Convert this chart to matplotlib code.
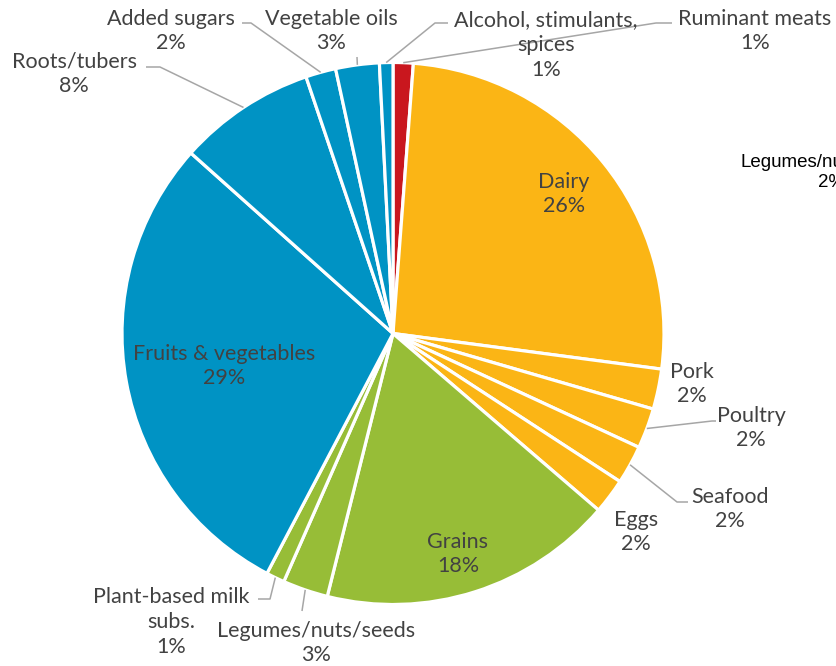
import numpy as np
import matplotlib.pyplot as plt

# food group shares (% of total), clockwise from 12 o'clock
groups = ["Ruminant meats", "Dairy", "Pork", "Poultry", "Seafood", "Eggs",
          "Grains", "Legumes/nuts/seeds", "Plant-based milk\nsubs.",
          "Fruits & vegetables", "Roots/tubers", "Added sugars",
          "Vegetable oils", "Alcohol, stimulants,\nspices"]
shares = [1.2, 25.9, 2.4, 2.4, 2.3, 2.1,
          17.6, 2.7, 1.1,
          28.9, 8.2, 1.8, 2.6, 0.8]
kind = ["red", "animal", "animal", "animal", "animal", "animal",
        "grain", "grain", "grain",
        "plant", "plant", "plant", "plant", "plant"]

palette = {"red": "#C9171E", "animal": "#FBB515", "grain": "#97BD37", "plant": "#0093C4"}
txt_color = "#424242"
line_color = "#A6A6A6"

W, H = 836, 666
CX, CY, R = 393, 333.5, 271


def px(x, y):
    # pixel position -> data units (pie radius = 1)
    return (x - CX) / R, (CY - y) / R


fig = plt.figure(figsize=(W / 100, H / 100), dpi=100)
ax = fig.add_axes([0, 0, 1, 1])

wedges, _ = ax.pie(shares, colors=[palette[k] for k in kind], startangle=90,
                   counterclock=False, radius=1,
                   wedgeprops=dict(edgecolor="white", linewidth=2.3))
ax.set_xlim(-CX / R, (W - CX) / R)
ax.set_ylim(-(H - CY) / R, CY / R)
ax.set_aspect("equal")
ax.axis("off")

# label block centres, in pixels
label_pos = {
    "Ruminant meats": (755, 31),
    "Dairy": (564, 194),
    "Pork": (692, 384),
    "Poultry": (751, 428),
    "Seafood": (730, 509),
    "Eggs": (636, 532),
    "Grains": (458, 554),
    "Legumes/nuts/seeds": (316, 643),
    "Plant-based milk\nsubs.": (171, 622),
    "Fruits & vegetables": (224, 366),
    "Roots/tubers": (74, 74),
    "Added sugars": (171, 31),
    "Vegetable oils": (331, 31),
    "Alcohol, stimulants,\nspices": (546, 45),
}

# leader line bends/ends, in pixels
leaders = {
    "Ruminant meats": [(656, 23), (672, 23)],
    "Alcohol, stimulants,\nspices": [(435, 23), (448, 23)],
    "Vegetable oils": [(357, 57)],
    "Added sugars": [(251, 23), (242, 23)],
    "Roots/tubers": [(160, 67), (146, 67)],
    "Poultry": [(712, 421), (716, 421)],
    "Seafood": [(677, 502), (688, 502)],
    "Plant-based milk\nsubs.": [(270, 599), (258, 599)],
    "Legumes/nuts/seeds": [(302, 611)],
}

font = ["Lato", "DejaVu Sans"]
for w, name, val in zip(wedges, groups, shares):
    x, y = px(*label_pos[name])
    ax.text(x, y, f"{name}\n{val:.0f}%", ha="center", va="center",
            multialignment="center", fontsize=15.5, color=txt_color,
            family=font, linespacing=1.3)
    if name in leaders:
        mid = np.deg2rad((w.theta1 + w.theta2) / 2)
        pts = [(np.cos(mid), np.sin(mid))] + [px(*p) for p in leaders[name]]
        xs, ys = zip(*pts)
        ax.plot(xs, ys, color=line_color, lw=1.1, solid_capstyle="butt")

# stray label left over at the right edge
ax.text(*px(740, 162), "Legumes/nuts/seeds", ha="left", va="center",
        fontsize=13.5, color="black", family="Liberation Sans")
ax.text(*px(818, 182), "2%", ha="left", va="center",
        fontsize=13.5, color="black", family="Liberation Sans")

fig.savefig("out.png", dpi=100)
